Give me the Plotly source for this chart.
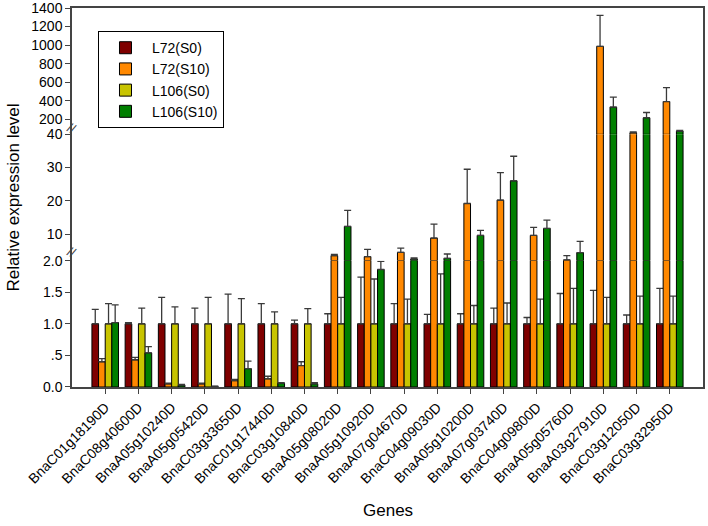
import plotly.graph_objects as go
from plotly.subplots import make_subplots

genes = ["BnaC01g18190D", "BnaC08g40600D", "BnaA05g10240D", "BnaA05g05420D",
         "BnaC03g33650D", "BnaC01g17440D", "BnaC03g10840D", "BnaA05g08020D",
         "BnaA05g10920D", "BnaA07g04670D", "BnaC04g09030D", "BnaA05g10200D",
         "BnaA07g03740D", "BnaC04g09800D", "BnaA05g05760D", "BnaA03g27910D",
         "BnaC03g12050D", "BnaC03g32950D"]

series_names = ["L72(S0)", "L72(S10)", "L106(S0)", "L106(S10)"]
series_colors = ["#7f0000", "#ff8800", "#c8c400", "#007f00"]

l72_s0 = [1.0, 1.0, 1.0, 1.0, 1.0, 1.0, 1.0, 1.0, 1.0, 1.0, 1.0, 1.0, 1.0, 1.0, 1.0, 1.0, 1.0, 1.0]
l72_s0_err = [0.23, 0.02, 0.42, 0.25, 0.47, 0.32, 0.06, 0.16, 0.74, 0.32, 0.15, 0.16, 0.25, 0.10, 0.48, 0.53, 0.14, 0.56]

l72_s10 = [0.40, 0.43, 0.05, 0.05, 0.10, 0.13, 0.34, 3.5, 3.2, 4.5, 8.8, 19.2, 20.2, 9.6, 2.2, 987, 57, 393]
l72_s10_err = [0.05, 0.04, 0.01, 0.01, 0.02, 0.04, 0.06, 0.4, 2.2, 1.3, 4.2, 10.3, 8.3, 2.4, 1.3, 333, 10, 150]

l106_s0 = [1.0, 1.0, 1.0, 1.0, 1.0, 1.0, 1.0, 1.0, 1.0, 1.0, 1.0, 1.0, 1.0, 1.0, 1.0, 1.0, 1.0, 1.0]
l106_s0_err = [0.32, 0.25, 0.27, 0.42, 0.40, 0.19, 0.24, 0.42, 0.71, 0.39, 0.79, 0.29, 0.33, 0.39, 0.56, 0.42, 0.44, 0.44]

l106_s10 = [1.02, 0.54, 0.03, 0.01, 0.29, 0.06, 0.05, 12.3, 1.86, 2.5, 2.7, 9.6, 26.0, 11.7, 4.4, 333, 218, 75]
l106_s10_err = [0.28, 0.10, 0.01, 0.005, 0.12, 0.01, 0.02, 4.8, 0.13, 0.3, 1.3, 1.5, 7.4, 2.5, 3.4, 107, 57, 8]

values = [l72_s0, l72_s10, l106_s0, l106_s10]
errors = [l72_s0_err, l72_s10_err, l106_s0_err, l106_s10_err]

# broken y axis: (row, low, high)
segments = [(1, 40, 1400), (2, 2, 40), (3, 0, 2)]
top_ticks = [200, 400, 600, 800, 1000, 1200, 1400]
mid_ticks = [10, 20, 30, 40]
low_ticks = [0, 0.5, 1.0, 1.5, 2.0]
low_ticktext = ["0.0", ".5", "1.0", "1.5", "2.0"]

FONT = "Arial, 'Liberation Sans', sans-serif"
AX = "#444444"

fig = make_subplots(rows=3, cols=1, shared_xaxes=True, vertical_spacing=0)

for row, lo, hi in segments:
    for name, color, vals, errs in zip(series_names, series_colors, values, errors):
        ys = [(v - lo) if v > lo else None for v in vals]
        fig.add_trace(go.Bar(
            x=genes, y=ys, base=lo, name=name,
            legendgroup=name, showlegend=(row == 3),
            marker=dict(color=color, line=dict(color="#000000", width=1)),
            error_y=dict(type="data", symmetric=False, array=errs,
                         arrayminus=[0] * len(errs),
                         color="#3a3a3a", thickness=1.3, width=3.5),
        ), row=row, col=1)

fig.update_layout(
    width=708, height=526,
    margin=dict(l=72, r=5, t=8, b=139, autoexpand=False),
    paper_bgcolor="white", plot_bgcolor="white",
    barmode="group", bargap=0.2, bargroupgap=0,
    font=dict(family=FONT, size=14, color="black"),
    legend=dict(x=0.0412, y=0.939, xanchor="left", yanchor="top",
                bgcolor="white", bordercolor="black", borderwidth=1,
                font=dict(family=FONT, size=14), itemwidth=43,
                entrywidth=78, tracegroupgap=0),
)

common_y = dict(showgrid=False, zeroline=False, showline=True, linecolor=AX,
                linewidth=1.5, mirror=True, ticks="outside", ticklen=5,
                tickcolor=AX, automargin=False, ticklabeloverflow="allow",
                tickfont=dict(family=FONT, size=14))
fig.update_yaxes(range=[40, 1400], tickvals=top_ticks, row=1, col=1, **common_y)
fig.update_yaxes(range=[2, 40], tickvals=mid_ticks, row=2, col=1, **common_y)
fig.update_yaxes(range=[0, 2], tickvals=low_ticks, ticktext=low_ticktext, row=3, col=1, **common_y)

fig.update_xaxes(range=[-1, 18], showgrid=False, zeroline=False, automargin=False)
fig.update_xaxes(showline=True, side="top", linecolor=AX, linewidth=1.5,
                 ticks="", showticklabels=False, row=1, col=1)
fig.update_xaxes(showline=False, ticks="", showticklabels=False, row=2, col=1)
fig.update_xaxes(showline=True, linecolor=AX, linewidth=1.5, ticks="outside",
                 ticklen=5, tickcolor=AX, tickangle=-45, showticklabels=True,
                 ticklabeloverflow="allow",
                 tickfont=dict(family=FONT, size=14), row=3, col=1)

# axis titles and break marks
fig.add_annotation(text="Relative expression level", xref="paper", yref="paper",
                   x=-0.092, y=0.5, xanchor="center", yanchor="middle",
                   textangle=-90, showarrow=False,
                   font=dict(family=FONT, size=17))
fig.add_annotation(text="Genes", xref="paper", yref="paper", x=0.5, y=-0.327,
                   xanchor="center", yanchor="middle", showarrow=False,
                   font=dict(family=FONT, size=17))
for yb in [0.683, 0.356]:
    fig.add_annotation(text="//", xref="paper", yref="paper", x=0, y=yb,
                       xanchor="center", yanchor="middle",
                       showarrow=False, textangle=25,
                       font=dict(family=FONT, size=13, color=AX))

fig.write_html("out.html", config={"displayModeBar": False},
               post_script="document.body.style.margin='0';")
